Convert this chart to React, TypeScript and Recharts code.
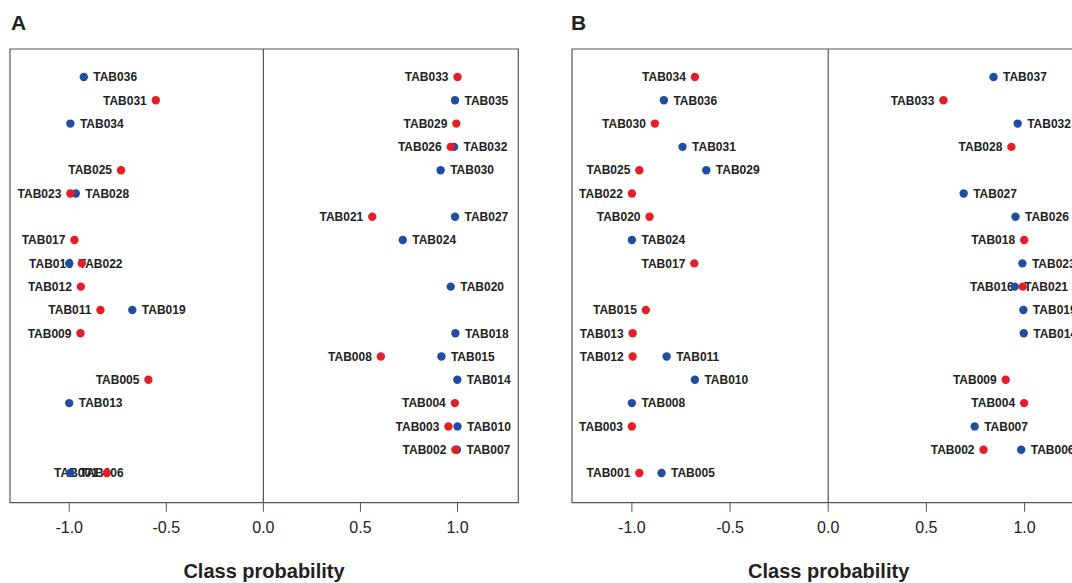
import { ScatterChart, Scatter, XAxis, YAxis, ReferenceArea, ReferenceLine } from "recharts";

// Panel A
const aRedNames = ["TAB031", "TAB025", "TAB023", "TAB017", "TAB016", "TAB012", "TAB011", "TAB009", "TAB005", "TAB001", "TAB033", "TAB029", "TAB026", "TAB021", "TAB008", "TAB004", "TAB003", "TAB002"];
const aRedProb = [-0.554, -0.733, -0.994, -0.973, -0.935, -0.94, -0.839, -0.942, -0.592, -0.806, 1.0, 0.994, 0.965, 0.561, 0.605, 0.986, 0.953, 0.989];
const aRedRow = [2, 5, 6, 8, 9, 10, 11, 12, 14, 18, 1, 3, 4, 7, 13, 15, 16, 17];

const aBlueNames = ["TAB036", "TAB034", "TAB028", "TAB022", "TAB019", "TAB013", "TAB006", "TAB035", "TAB032", "TAB030", "TAB027", "TAB024", "TAB020", "TAB018", "TAB015", "TAB014", "TAB010", "TAB007"];
const aBlueProb = [-0.925, -0.994, -0.966, -1.0, -0.675, -1.0, -0.994, 0.987, 0.982, 0.913, 0.987, 0.718, 0.965, 0.989, 0.917, 0.999, 1.0, 0.997];
const aBlueRow = [1, 3, 6, 9, 11, 15, 18, 2, 4, 5, 7, 8, 10, 12, 13, 14, 16, 17];

// Panel B
const bRedNames = ["TAB034", "TAB030", "TAB025", "TAB022", "TAB020", "TAB017", "TAB015", "TAB013", "TAB012", "TAB003", "TAB001", "TAB033", "TAB028", "TAB018", "TAB016", "TAB009", "TAB004", "TAB002"];
const bRedProb = [-0.679, -0.883, -0.962, -1.0, -0.91, -0.682, -0.929, -0.996, -0.996, -1.0, -0.962, 0.587, 0.933, 0.998, 0.991, 0.904, 0.998, 0.791];
const bRedRow = [1, 3, 5, 6, 7, 9, 11, 12, 13, 16, 18, 2, 4, 8, 10, 14, 15, 17];

const bBlueNames = ["TAB036", "TAB031", "TAB029", "TAB024", "TAB011", "TAB010", "TAB008", "TAB005", "TAB037", "TAB032", "TAB027", "TAB026", "TAB023", "TAB021", "TAB019", "TAB014", "TAB007", "TAB006"];
const bBlueProb = [-0.837, -0.742, -0.621, -1.0, -0.823, -0.679, -1.0, -0.849, 0.842, 0.965, 0.69, 0.954, 0.989, 0.95, 0.994, 0.996, 0.746, 0.983];
const bBlueRow = [2, 4, 5, 8, 13, 14, 15, 18, 1, 3, 6, 7, 9, 10, 11, 12, 16, 17];

const xTicks = [-1, -0.5, 0, 0.5, 1];

const RED = "#e31e26";
const BLUE = "#1f4e9f";
const INK = "#222";
const FONT = "'Liberation Sans', Arial, Helvetica, sans-serif";
const X_DOMAIN: [number, number] = [-1.305, 1.313];
const Y_DOMAIN: [number, number] = [-0.202, 19.275];

const toPoints = (names: string[], prob: number[], rows: number[]) =>
  names.map((name, i) => ({ name, x: prob[i], y: rows[i] }));

const Dot = (color: string) => (props: any) => {
  const { cx, cy } = props;
  return <circle cx={cx} cy={cy} r={4.2} fill={color} />;
};

const Tag = (side: "left" | "right") => (props: any) => {
  const { cx, cy, payload } = props;
  return (
    <text
      x={side === "left" ? cx - 9 : cx + 9.5}
      y={cy}
      dy="0.36em"
      textAnchor={side === "left" ? "end" : "start"}
      fontSize={12}
      fontWeight="bold"
      fontFamily={FONT}
      fill={INK}
    >
      {payload.name}
    </text>
  );
};

type PanelProps = {
  red: { name: string; x: number; y: number }[];
  blue: { name: string; x: number; y: number }[];
  width: number;
};

const Panel = ({ red, blue, width }: PanelProps) => (
  <ScatterChart width={width} height={583} margin={{ top: 49, right: width - 10 - (width === 540 ? 508.3 : 514), bottom: 0, left: 10 }}>
    <XAxis
      type="number"
      dataKey="x"
      domain={X_DOMAIN}
      ticks={xTicks}
      interval={0}
      allowDataOverflow
      tickFormatter={(v: number) => v.toFixed(1)}
      axisLine={false}
      tickLine={{ stroke: "#555" }}
      tickSize={9}
      tickMargin={10}
      height={80.3}
      tick={{ fontSize: 16, fill: INK, fontFamily: FONT }}
    />
    <YAxis type="number" dataKey="y" domain={Y_DOMAIN} reversed hide allowDataOverflow />
    <ReferenceArea x1={X_DOMAIN[0]} x2={X_DOMAIN[1]} y1={Y_DOMAIN[0]} y2={Y_DOMAIN[1]} fill="none" fillOpacity={0} stroke="#555" strokeWidth={1.2} />
    <ReferenceLine x={0} stroke="#555" strokeWidth={1.2} />
    <Scatter data={red} shape={Tag("left")} isAnimationActive={false} />
    <Scatter data={blue} shape={Tag("right")} isAnimationActive={false} />
    <Scatter data={blue} shape={Dot(BLUE)} isAnimationActive={false} />
    <Scatter data={red} shape={Dot(RED)} isAnimationActive={false} />
  </ScatterChart>
);

export default function App() {
  const aRed = toPoints(aRedNames, aRedProb, aRedRow);
  const aBlue = toPoints(aBlueNames, aBlueProb, aBlueRow);
  const bRed = toPoints(bRedNames, bRedProb, bRedRow);
  const bBlue = toPoints(bBlueNames, bBlueProb, bBlueRow);
  return (
    <div style={{ position: "fixed", left: 0, top: 0, width: 1072, height: 583, overflow: "hidden", background: "#fff" }}>
      <div style={{ position: "absolute", left: 0, top: 0 }}>
        <Panel red={aRed} blue={aBlue} width={540} />
      </div>
      <div style={{ position: "absolute", left: 561.7, top: 0 }}>
        <Panel red={bRed} blue={bBlue} width={546} />
      </div>
      <svg width={1072} height={583} style={{ position: "absolute", left: 0, top: 0, pointerEvents: "none" }}>
        <text x={11} y={30} fontSize={21} fontWeight="bold" fontFamily={FONT} fill={INK}>A</text>
        <text x={571} y={30} fontSize={21} fontWeight="bold" fontFamily={FONT} fill={INK}>B</text>
        <text x={264} y={577.5} textAnchor="middle" fontSize={20} fontWeight="bold" fontFamily={FONT} fill={INK}>Class probability</text>
        <text x={828.7} y={577.5} textAnchor="middle" fontSize={20} fontWeight="bold" fontFamily={FONT} fill={INK}>Class probability</text>
      </svg>
    </div>
  );
}
